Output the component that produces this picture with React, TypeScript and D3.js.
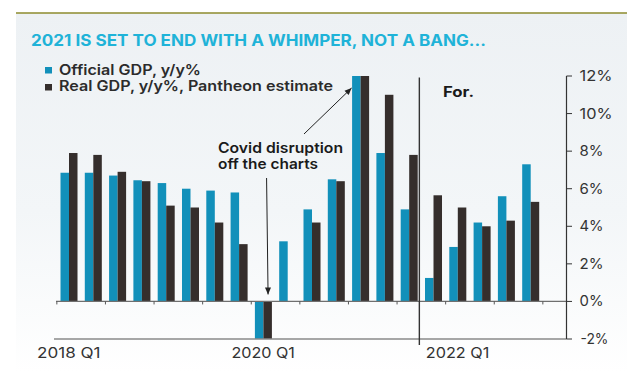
import React from "react";
import * as d3 from "d3";

const quarters = [
  "2018 Q1","2018 Q2","2018 Q3","2018 Q4",
  "2019 Q1","2019 Q2","2019 Q3","2019 Q4",
  "2020 Q1","2020 Q2","2020 Q3","2020 Q4",
  "2021 Q1","2021 Q2","2021 Q3","2021 Q4",
  "2022 Q1","2022 Q2","2022 Q3","2022 Q4",
];
const officialGDP = [6.85, 6.85, 6.7, 6.45, 6.3, 6.0, 5.9, 5.8, -6.8, 3.2, 4.9, 6.5, 18.3, 7.9, 4.9, 1.25, 2.9, 4.2, 5.6, 7.3];
const realGDP = [7.9, 7.8, 6.9, 6.4, 5.1, 5.0, 4.2, 3.05, -8.0, 0, 4.2, 6.4, 15.0, 11.0, 7.8, 5.65, 5.0, 4.0, 4.3, 5.3];
const xLabels = ["2018 Q1", "2020 Q1", "2022 Q1"];
const yTicks = [-2, 0, 2, 4, 6, 8, 10, 12];
const forecastStart = "2021 Q4";
const seriesNames = ["Official GDP, y/y%", "Real GDP, y/y%, Pantheon estimate"];

const BLUE = "#1290ba";
const DARK = "#352e2c";
const FONT = "Inter, 'Noto Sans', sans-serif";

export default function App() {
  const W = 627, H = 373;
  const x = d3.scaleBand<string>().domain(quarters).range([56.85, 542.85]).paddingInner(0.3).paddingOuter(0.15);
  const y = d3.scaleLinear().domain([-2, 12]).range([339, 76]).clamp(true);
  const bw = x.bandwidth() / 2;
  const step = x.step();
  const axisX = 566.5;
  const boundary = (q: string) => (x(q) as number) - step * 0.15;
  const dividerX = (x(forecastStart) as number) - step * 0.15 - 2;

  const covidQ = "2021 Q1";
  const dipQ = "2020 Q1";
  const a1End = [(x(covidQ) as number) - 0.5, y(12) + 12];
  const a1Start = [304, 134];
  const a2End = [(x(dipQ) as number) + bw * 1.55, y(0) - 7];
  const a2Start = [a2End[0] - 1.5, 178];

  const arrowHead = (s: number[], e: number[]) => {
    const ang = Math.atan2(e[1] - s[1], e[0] - s[0]);
    const L = 7, Wd = 3;
    const bx = e[0] - L * Math.cos(ang), by = e[1] - L * Math.sin(ang);
    const px = -Math.sin(ang) * Wd, py = Math.cos(ang) * Wd;
    return `M${e[0]},${e[1]}L${bx + px},${by + py}L${bx - px},${by - py}Z`;
  };

  const tickWidth = (t: number) => (t < 0 ? 28 : Math.abs(t) >= 10 ? 33 : 24);
  const legendWidths = [142, 274];

  return (
    <svg width={W} height={H} style={{ position: "fixed", left: 0, top: 0, display: "block" }} fontFamily={FONT}>
      <defs>
        <linearGradient id="bg" x1="0" y1="0" x2="0" y2="1">
          <stop offset="0" stopColor="#edf1f4" />
          <stop offset="0.55" stopColor="#f3f6f8" />
          <stop offset="1" stopColor="#ffffff" />
        </linearGradient>
        <clipPath id="plot">
          <rect x={0} y={y(12)} width={W} height={y(-2) - y(12)} />
        </clipPath>
      </defs>
      <rect width={W} height={H} fill="#fff" />
      <rect x={16} y={13} width={W - 16} height={H - 13} fill="url(#bg)" />
      <line x1={16} x2={W} y1={13} y2={13} stroke="#8c8b2e" strokeWidth={1.6} />
      <text x={31} y={46} fontSize={15.6} fontWeight={700} fill="#1fb3d8" textLength={455} lengthAdjust="spacingAndGlyphs">
        2021 IS SET TO END WITH A WHIMPER, NOT A BANG...
      </text>

      {/* legend */}
      {seriesNames.map((n, i) => (
        <g key={n}>
          <rect x={45} y={67 + i * 17} width={7} height={6.5} fill={i === 0 ? BLUE : DARK} />
          <text x={59} y={74.5 + i * 16.8} fontSize={14.2} fontWeight={600} fill="#2b2b2b" textLength={legendWidths[i]} lengthAdjust="spacingAndGlyphs">{n}</text>
        </g>
      ))}

      {/* bars */}
      <g clipPath="url(#plot)">
        {quarters.map((q, i) => (
          <g key={q}>
            <rect x={x(q) as number} width={bw} y={Math.min(y(officialGDP[i]), y(0))} height={Math.abs(y(officialGDP[i]) - y(0))} fill={BLUE} />
            <rect x={(x(q) as number) + bw} width={bw} y={Math.min(y(realGDP[i]), y(0))} height={Math.abs(y(realGDP[i]) - y(0))} fill={DARK} />
          </g>
        ))}
      </g>

      {/* zero line + ticks */}
      <line x1={56} x2={axisX} y1={y(0)} y2={y(0)} stroke="#6f6f6f" strokeWidth={1.2} />
      {quarters.filter((_, i) => i % 2 === 0).map((q) => (
        <line key={q} x1={boundary(q)} x2={boundary(q)} y1={y(0)} y2={y(0) + 3} stroke="#555" strokeWidth={1} />
      ))}
      <line x1={boundary(quarters[19]) + step} x2={boundary(quarters[19]) + step} y1={y(0)} y2={y(0) + 3} stroke="#555" strokeWidth={1} />
      {/* bottom line */}
      <line x1={54} x2={axisX} y1={y(-2)} y2={y(-2)} stroke="#8a8a8a" strokeWidth={1.5} />

      {/* right axis */}
      <line x1={axisX} x2={axisX} y1={y(12)} y2={y(-2)} stroke="#333" strokeWidth={1.2} />
      {yTicks.map((t) => (
        <g key={t}>
          <line x1={axisX} x2={axisX + 5.5} y1={y(t)} y2={y(t)} stroke="#333" strokeWidth={1} />
          <text x={t < 0 ? 580.5 : 579.5} y={y(t) + 5} fontSize={14} fill="#333" textLength={tickWidth(t)} lengthAdjust="spacingAndGlyphs">{`${t}%`}</text>
        </g>
      ))}

      {/* x labels */}
      {xLabels.map((l) => (
        <text key={l} x={(x(l) as number) + x.bandwidth() / 2 - 32} y={357.5} fontSize={14.2} fill="#333" textLength={63.5} lengthAdjust="spacingAndGlyphs">{l}</text>
      ))}

      {/* forecast divider */}
      <line x1={dividerX} x2={dividerX} y1={77.5} y2={345} stroke="#333" strokeWidth={1.4} />
      <text x={443} y={97.3} fontSize={14} fontWeight={700} fill="#1a1a1a" textLength={31} lengthAdjust="spacingAndGlyphs">For.</text>

      {/* annotation */}
      <text x={218} y={153} fontSize={14.2} fontWeight={600} fill="#1a1a1a" textLength={125} lengthAdjust="spacingAndGlyphs">Covid disruption</text>
      <text x={218} y={169} fontSize={14.2} fontWeight={600} fill="#1a1a1a" textLength={100} lengthAdjust="spacingAndGlyphs">off the charts</text>
      <line x1={a1Start[0]} y1={a1Start[1]} x2={a1End[0]} y2={a1End[1]} stroke="#222" strokeWidth={1} />
      <path d={arrowHead(a1Start, a1End)} fill="#222" />
      <line x1={a2Start[0]} y1={a2Start[1]} x2={a2End[0]} y2={a2End[1]} stroke="#222" strokeWidth={1} />
      <path d={arrowHead(a2Start, a2End)} fill="#222" />
    </svg>
  );
}
